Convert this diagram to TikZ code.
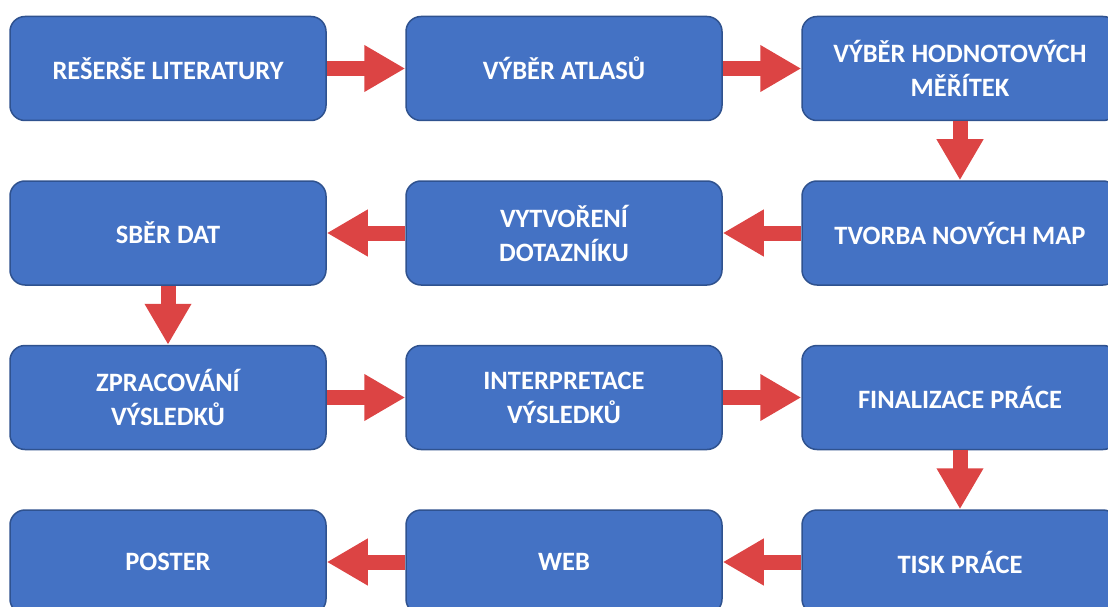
\documentclass[tikz,border=0pt]{standalone}
\usepackage{fontspec}
\setmainfont{Carlito}
\usepackage{tikz}
\usetikzlibrary{positioning,arrows.meta}
\definecolor{modra}{RGB}{68,114,196}
\definecolor{modraokraj}{RGB}{47,82,143}
\definecolor{cervena}{RGB}{220,68,68}
\tikzstyle{blok}=[draw=modraokraj, line width=1.5pt, fill=modra, rounded corners=15pt, minimum width=316pt, minimum height=104pt, text=white, align=center, font=\bfseries\fontsize{26.5}{34}\selectfont]
\tikzstyle{tok}=[-{Triangle[width=44pt,length=41pt]}, line width=15pt, color=cervena]

\begin{document}
\begin{tikzpicture}
	\path[use as bounding box, clip] (0,0) rectangle (1108pt,-607pt);
	\node[blok] (RL) at (168pt,-68.5pt) {REŠERŠE LITERATURY};
	\node[blok] (VA) [right = 78.5pt of RL] {VÝBĚR ATLASŮ};
	\node[blok] (VM) [right = 78.5pt of VA] {VÝBĚR HODNOTOVÝCH\\MĚŘÍTEK};

	\node[blok] (TM) [below = 59pt of VM] {TVORBA NOVÝCH MAP};
	\node[blok] (VD) [left = 78.5pt of TM] {VYTVOŘENÍ\\DOTAZNÍKU};
	\node[blok] (SD) [left = 78.5pt of VD] {SBĚR DAT};

	\node[blok] (ZV) [below = 59pt of SD] {ZPRACOVÁNÍ\\VÝSLEDKŮ};
	\node[blok] (IV) [right = 78.5pt of ZV] {INTERPRETACE\\VÝSLEDKŮ};
	\node[blok] (FP) [right = 78.5pt of IV] {FINALIZACE PRÁCE};

	\node[blok] (TP) [below = 59pt of FP] {TISK PRÁCE};
	\node[blok] (WB) [left = 78.5pt of TP] {WEB};
	\node[blok] (PS) [left = 78.5pt of WB] {POSTER};

	\draw (RL) edge[tok] (VA);
	\draw (VA) edge[tok] (VM);
	\draw (VM) edge[tok] (TM);
	\draw (TM) edge[tok] (VD);
	\draw (VD) edge[tok] (SD);
	\draw (SD) edge[tok] (ZV);
	\draw (ZV) edge[tok] (IV);
	\draw (IV) edge[tok] (FP);
	\draw (FP) edge[tok] (TP);
	\draw (TP) edge[tok] (WB);
	\draw (WB) edge[tok] (PS);
\end{tikzpicture}
\end{document}
